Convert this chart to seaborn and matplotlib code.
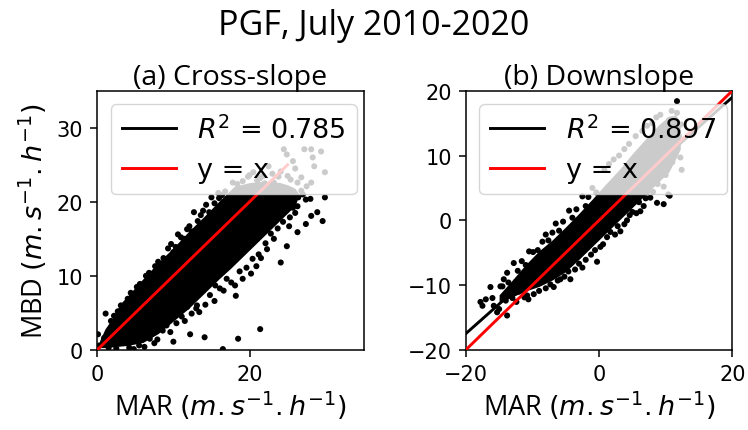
import numpy as np
import pandas as pd
import seaborn as sns
import matplotlib.pyplot as plt

# (a) cross-slope: single points (edges + outliers)
mar_cross = [0.1, 0.3, 0.9, 1.1, 2.2, 3.1, 3.6, 4.4, 5.2, 5.9, 6.4, 7.0, 7.6, 8.3, 8.7, 9.3, 10.0, 10.6, 11.4, 12.1,
             12.7, 13.6, 14.3, 15.0, 15.9, 16.4,
             1.5, 2.5, 3.3, 4.2, 5.5, 7.5, 10.0, 12.2, 14.1, 16.5, 18.5, 21.4, 9.1, 11.1, 11.8, 13.1, 13.4, 15.4,
             15.5, 16.6, 18.1, 18.2, 19.1, 20.2, 20.9, 21.5, 22.3, 23.2, 24.1, 24.9, 25.2, 26.3, 26.0, 27.4, 28.1,
             28.9, 29.6, 26.3, 27.4, 27.0, 29.9, 28.0,
             17.8, 19.1, 20.5, 21.8, 22.5, 23.2, 24.1, 24.5, 24.9, 25.4, 26.8, 27.2, 28.1, 28.3, 29.4, 28.5, 29.9,
             28.1, 26.0, 23.0, 21.0, 25.7, 27.5, 22.0, 19.8, 18.4, 20.0, 21.4, 23.8, 25.0, 26.3,
             1.8, 2.7, 4.0, 4.8, 5.6, 6.8, 7.3, 8.0, 9.0, 9.7, 10.3, 11.0, 11.8, 12.4, 13.2, 13.9, 14.7, 15.4,
             16.0, 16.8,
             4.8, 6.2, 6.9, 7.9, 8.6, 9.6, 10.4, 11.5, 12.4, 13.0, 14.2, 14.8, 16.1, 17.0, 17.6, 18.7, 19.6, 20.4,
             21.2, 22.1, 22.8, 23.7, 24.4, 25.3, 25.7, 26.4, 26.8]
mbd_cross = [2.1, 0.6, 1.6, 4.9, 4.6, 6.0, 5.3, 7.7, 8.5, 8.1, 10.0, 9.6, 11.3, 11.1, 12.4, 13.7, 13.2, 15.6, 15.0, 16.7,
             18.6, 18.2, 19.6, 20.6, 21.2, 20.9,
             0.3, 0.2, 1.0, 0.3, 0.6, 0.9, 1.1, 2.1, 1.7, 0.1, 1.5, 2.8, 3.3, 4.5, 5.8, 6.0, 5.1, 6.6,
             8.7, 8.0, 8.7, 7.3, 9.6, 10.3, 11.3, 12.4, 13.6, 15.0, 11.8, 14.0, 16.7, 15.9, 18.5, 17.0, 18.1,
             18.6, 17.4, 19.4, 20.3, 21.0, 20.6, 20.4,
             22.6, 22.8, 24.0, 23.5, 24.8, 22.6, 24.1, 27.1, 26.4, 23.0, 23.3, 27.1, 27.1, 26.0, 26.8, 24.8, 24.0,
             22.6, 24.5, 23.8, 22.9, 25.5, 22.1, 22.5, 23.4, 22.4, 23.6, 23.2, 23.4, 23.5, 22.6,
             3.9, 5.2, 6.9, 7.2, 8.9, 10.4, 9.9, 11.9, 12.0, 14.3, 13.9, 15.2, 16.3, 16.0, 17.4, 18.8, 18.6, 19.8,
             20.5, 21.4,
             0.1, 0.4, 1.5, 1.4, 2.6, 2.4, 3.6, 3.9, 4.9, 5.6, 6.1, 7.4, 8.3, 9.6, 9.1, 10.6, 11.1, 12.3,
             12.9, 14.4, 15.7, 16.4, 17.3, 17.9, 19.2, 20.6, 21.5]
# dense core of the cloud: lower / upper MBD along MAR
core_mar_cross = [0.3, 1, 2, 3, 4, 6, 8, 10, 12, 14, 16, 17.5, 18, 20, 22, 24, 25, 26, 26.5]
core_lo_cross = [0.3, 0.3, 0.4, 0.5, 0.6, 1.0, 2.2, 3.9, 5.6, 7.6, 9.6, 11.0, 11.5, 13.5, 15.5, 17.5, 18.5, 19.5, 21.0]
core_hi_cross = [1.2, 2.8, 4.3, 6.2, 7.3, 9.6, 11.8, 13.8, 16.0, 18.0, 20.1, 21.6, 22.1, 22.6, 22.8, 22.6, 22.3, 21.8, 21.0]
r2_cross = 0.785
fit_cross = (0.86, 1.0)        # slope, intercept
fit_x_cross = (1, 24)
diag_x_cross = (0, 25)

# (b) downslope
mar_down = [-17.8, -17.5, -17.0, -16.3, -15.8, -15.3, -15.0, -14.8, -14.3, -13.8, -13.8, -12.8, -12.5, -11.5, -10.8,
            -10.6, -12.0, -13.0, -16.0,
            -10.5, -8.0, -6.5, -4.5, -2.5, -1.0,
            -6.8, -4.3, -5.8, -2.5, -0.3, 0.2, 1.7, 3.2, 4.2, 5.0, 6.2, 6.7, 7.2, 7.7, 8.7, 9.7, 10.4, 10.6,
            8.2, 9.7, 12.2, 12.4, 10.7, 11.2, 11.7, 9.2, 10.5, 12.0, 11.5, 1.5, 3.0, 4.5, 6.5, 8.0,
            11.7,
            -14.5, -13.6, -12.2, -11.6, -11.0, -9.9, -9.2, -8.5, -7.6, -7.0, -6.0, -5.4, -4.0, -3.4, -2.0, -1.6,
            -0.4,
            -14.0, -12.4, -11.2, -9.8, -9.0, -8.0, -7.3, -6.2, -5.2, -4.6, -3.6, -3.0, -2.0, -1.2, -0.6, 0.6,
            1.2, 2.4, 2.8, 3.8, 4.6, 5.6, 6.0, 7.0, 8.1, 8.8,
            10.0, 11.0, 11.8, 12.3, 10.9, 8.6, 7.2, 5.5, 3.8, 2.2, 0.8]
mbd_down = [-12.6, -13.2, -12.2, -10.3, -13.2, -14.2, -13.7, -10.2, -9.1, -14.7, -8.1, -6.6, -9.5, -10.6, -11.6,
            -12.2, -11.0, -12.0, -12.0,
            -4.8, -2.2, -0.5, 1.5, 3.7, 5.0,
            -10.3, -9.1, -9.1, -7.3, -6.4, -4.1, -1.8, -1.7, 0.0, 1.3, 1.4, 2.2, 4.3, 3.5, 2.7, 2.5, 4.0, 3.8,
            6.3, 5.2, 9.7, 7.8, 12.5, 14.0, 16.6, 16.3, 15.5, 13.0, 11.0, 8.7, 10.0, 11.8, 13.8, 15.0,
            18.4,
            -10.2, -9.6, -7.8, -6.3, -6.9, -4.9, -4.6, -3.3, -3.1, -1.9, -1.6, -0.2, 0.4, 1.7, 2.2, 3.6,
            4.3,
            -12.4, -12.6, -11.9, -11.4, -10.9, -10.5, -9.9, -9.3, -8.7, -7.9, -7.6, -6.7, -6.1, -5.3, -4.6, -3.7,
            -2.6, -2.2, -0.9, -0.6, 0.8, 1.1, 2.8, 3.4, 4.4, 5.6,
            7.0, 9.0, 12.0, 14.8, 16.9, 15.9, 14.6, 13.0, 11.0, 9.4, 7.8]
core_mar_down = [-15, -13, -11, -9, -7, -5, -3, -1, 1, 3, 5, 7, 9, 10.5, 11.5, 12.2]
core_lo_down = [-12.8, -11.8, -10.9, -10.2, -9.2, -7.9, -6.0, -4.0, -2.0, 0.0, 2.0, 4.0, 6.0, 7.5, 9.5, 11.0]
core_hi_down = [-11.5, -9.2, -6.8, -4.7, -3.0, -1.0, 1.1, 3.3, 5.6, 7.8, 10.3, 12.6, 14.8, 16.1, 16.3, 15.0]
r2_down = 0.897
fit_down = (0.9125, 0.75)
fit_x_down = (-20, 20)
diag_x_down = (-20, 20)

units = r"$(m.s^{-1}.h^{-1})$"
txt_font = ["Open Sans", "DejaVu Sans"]


def draw_panel(ax, mar, mbd, core_x, core_lo, core_hi, r2, fit, fit_x, diag_x, lims, ticks, title, black_on_top):
    df = pd.DataFrame({"MAR": mar, "MBD": mbd})
    fx = np.array(fit_x, dtype=float)
    fit_z = 4 if black_on_top else 1
    ax.plot(fx, fit[0] * fx + fit[1], color="black", lw=2.1, zorder=fit_z, label=r"$R^2$ = " + str(r2))
    ax.fill_between(core_x, core_lo, core_hi, color="black", lw=0, zorder=2)
    sns.scatterplot(data=df, x="MAR", y="MBD", ax=ax, color="black", s=19, edgecolor="none", zorder=3, legend=False)
    ax.plot(diag_x, diag_x, color="red", lw=2.1, zorder=5, label="y = x")
    ax.set_xlim(lims)
    ax.set_ylim(lims)
    ax.set_xticks(ticks[0])
    ax.set_yticks(ticks[1])
    ax.tick_params(labelsize=15, length=5, width=1.1, pad=5)
    for sp in ax.spines.values():
        sp.set_linewidth(1.1)
    ax.set_title(title, fontsize=20.5, family=txt_font, pad=3)
    ax.set_xlabel("MAR " + units, fontsize=19.5, family=txt_font, labelpad=4)
    ax.set_ylabel("")
    ax.legend(loc="upper left", fontsize=19.5, handlelength=2)


fig, axes = plt.subplots(1, 2, figsize=(7.48, 4.31), dpi=100)
plt.subplots_adjust(left=0.13, right=0.979, bottom=0.186, top=0.787, wspace=0.383)

draw_panel(axes[0], mar_cross, mbd_cross, core_mar_cross, core_lo_cross, core_hi_cross, r2_cross, fit_cross,
           fit_x_cross, diag_x_cross, (0, 35), ([0, 20], [0, 10, 20, 30]), "(a) Cross-slope", False)
draw_panel(axes[1], mar_down, mbd_down, core_mar_down, core_lo_down, core_hi_down, r2_down, fit_down,
           fit_x_down, diag_x_down, (-20, 20), ([-20, 0, 20], [-20, -10, 0, 10, 20]), "(b) Downslope", True)
axes[0].set_ylabel("MBD " + units, fontsize=19.5, family=txt_font, labelpad=5)

fig.suptitle("PGF, July 2010-2020", fontsize=24.5, family=txt_font, y=0.978)

fig.savefig("out.png", dpi=100)
